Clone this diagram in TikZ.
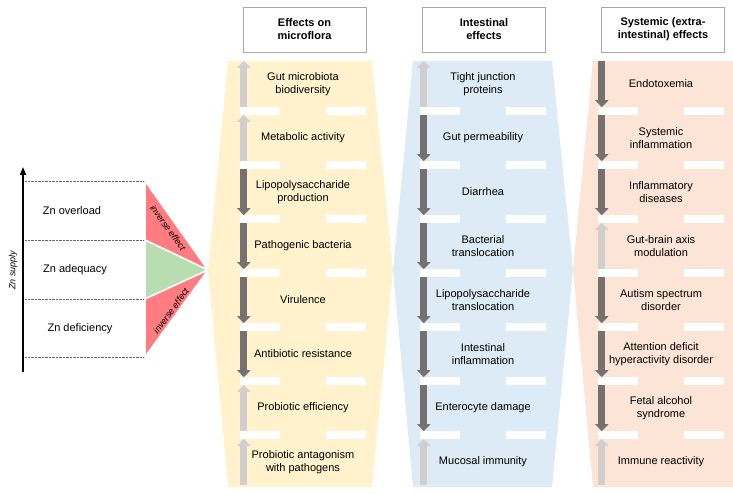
\documentclass[tikz,border=0pt]{standalone}
\usepackage{fontspec}
\setmainfont{Liberation Sans}
\usepackage{tikz}
\usetikzlibrary{calc, arrows.meta}
\definecolor{yelbg}{HTML}{FFF2CC}
\definecolor{bluebg}{HTML}{DDEBF7}
\definecolor{salbg}{HTML}{FCE4D6}
\definecolor{upgray}{HTML}{D0CECE}
\definecolor{downgray}{HTML}{767171}
\definecolor{znred}{HTML}{FF7C80}
\definecolor{zngreen}{HTML}{B7DDB0}
\tikzstyle{cell} = [rectangle, minimum width=126pt, minimum height=46pt, inner sep=0pt, align=center, font=\fontsize{11}{13}\selectfont]
\tikzstyle{header} = [rectangle, draw=gray!70, fill=white, minimum width=123pt, minimum height=45pt, align=center, font=\fontsize{11}{13}\selectfont\bfseries]
\tikzstyle{uparr} = [draw=upgray, line width=7pt, -{Triangle[width=13pt,length=7pt]}]
\tikzstyle{downarr} = [draw=downgray, line width=7pt, -{Triangle[width=13pt,length=7pt]}]
\tikzstyle{level} = [font=\fontsize{11}{13}\selectfont]
\tikzstyle{small} = [font=\fontsize{9}{10}\selectfont\itshape, inner sep=0pt]

\begin{document}
\begin{tikzpicture}[x=1pt, y=-1pt]
        \useasboundingbox (0,0) rectangle (733,494);

        % Zn supply axis
        \coordinate (axisbot) at (23,372);
        \coordinate (axistop) at (23,167);
        \draw[line width=1.5pt, -{Triangle[width=6pt,length=8pt]}] (axisbot) -- (axistop);
        \node[small, rotate=90] at (13,270) (supply) {Zn supply};
        \draw[densely dotted, gray!80!black] (25,181) -- (145,181);
        \draw[densely dotted, gray!80!black] (25,240) -- (145,240);
        \draw[densely dotted, gray!80!black] (25,299) -- (145,299);
        \draw[densely dotted, gray!80!black] (25,357) -- (145,357);
        \node[level] at (72,211) (overload) {Zn overload};
        \node[level] at (75,270) (adequacy) {Zn adequacy};
        \node[level] at (80,329) (deficiency) {Zn deficiency};

        \filldraw[fill=znred, draw=white, line width=1.5pt] (145,181) -- (145,240) -- (208,270) -- cycle;
        \filldraw[fill=zngreen, draw=white, line width=1.5pt] (145,240) -- (145,299) -- (208,270) -- cycle;
        \filldraw[fill=znred, draw=white, line width=1.5pt] (145,299) -- (145,357) -- (208,270) -- cycle;
        \node[small, rotate=-54] at (168,228) (invtop) {inverse effect};
        \node[small, rotate=54] at (171,311) (invbot) {inverse effect};

        % backgrounds
        \fill[yelbg] (228,61) -- (372,61) -- (393,270) -- (372,487) -- (228,487) -- (208,270) -- cycle;
        \fill[bluebg] (413,61) -- (552,61) -- (573,270) -- (552,487) -- (413,487) -- (393,270) -- cycle;
        \fill[salbg] (593,61) -- (733,61) -- (733,487) -- (593,487) -- (573,270) -- cycle;
        \fill[white] (240,61) rectangle (366,485);
        \fill[white] (420,61) rectangle (546,485);
        \fill[white] (598,61) rectangle (724,485);

        % headers
        \node[header] at (304.5,29.5) (hmicro) {Effects on\\microflora};
        \node[header] at (484,29.5) (hintest) {Intestinal\\effects};
        \node[header] at (663,29.5) (hsystem) {Systemic (extra-\\intestinal) effects};

        % microflora
        \node[cell, fill=yelbg] at (303,84) (m1) {Gut microbiota\\biodiversity};
        \node[cell, fill=yelbg] at (303,138) (m2) {Metabolic activity};
        \node[cell, fill=yelbg] at (303,192) (m3) {Lipopolysaccharide\\production};
        \node[cell, fill=yelbg] at (303,246) (m4) {Pathogenic bacteria};
        \node[cell, fill=yelbg] at (303,300) (m5) {Virulence};
        \node[cell, fill=yelbg] at (303,354) (m6) {Antibiotic resistance};
        \node[cell, fill=yelbg] at (303,408) (m7) {Probiotic efficiency};
        \node[cell, fill=yelbg] at (303,462) (m8) {Probiotic antagonism\\with pathogens};

        % intestinal
        \node[cell, fill=bluebg] at (483,84) (i1) {Tight junction\\proteins};
        \node[cell, fill=bluebg] at (483,138) (i2) {Gut permeability};
        \node[cell, fill=bluebg] at (483,192) (i3) {Diarrhea};
        \node[cell, fill=bluebg] at (483,246) (i4) {Bacterial\\translocation};
        \node[cell, fill=bluebg] at (483,300) (i5) {Lipopolysaccharide\\translocation};
        \node[cell, fill=bluebg] at (483,354) (i6) {Intestinal\\inflammation};
        \node[cell, fill=bluebg] at (483,408) (i7) {Enterocyte damage};
        \node[cell, fill=bluebg] at (483,462) (i8) {Mucosal immunity};

        % systemic
        \node[cell, fill=salbg] at (661,84) (s1) {Endotoxemia};
        \node[cell, fill=salbg] at (661,138) (s2) {Systemic\\inflammation};
        \node[cell, fill=salbg] at (661,192) (s3) {Inflammatory\\diseases};
        \node[cell, fill=salbg] at (661,246) (s4) {Gut-brain axis\\modulation};
        \node[cell, fill=salbg] at (661,300) (s5) {Autism spectrum\\disorder};
        \node[cell, fill=salbg] at (661,354) (s6) {Attention deficit\\hyperactivity disorder};
        \node[cell, fill=salbg] at (661,408) (s7) {Fetal alcohol\\syndrome};
        \node[cell, fill=salbg] at (661,462) (s8) {Immune reactivity};

        % links between cells
        \foreach \a/\b in {1/2, 2/3, 3/4, 4/5, 5/6, 6/7, 7/8} {
            \fill[yelbg] ([xshift=-23pt]m\a.south) rectangle ([xshift=23pt]m\b.north);
            \fill[bluebg] ([xshift=-23pt]i\a.south) rectangle ([xshift=23pt]i\b.north);
            \fill[salbg] ([xshift=-23pt]s\a.south) rectangle ([xshift=23pt]s\b.north);
        }

        % up and down arrows
        \foreach \c in {m1, m2, m7, m8, i1, i8, s4, s8}
            \draw[uparr] ([xshift=4pt]\c.south west) -- ([xshift=4pt]\c.north west);
        \foreach \c in {m3, m4, m5, m6, i2, i3, i4, i5, i6, i7, s1, s2, s3, s5, s6, s7}
            \draw[downarr] ([xshift=4pt]\c.north west) -- ([xshift=4pt]\c.south west);
    \end{tikzpicture}
\end{document}
